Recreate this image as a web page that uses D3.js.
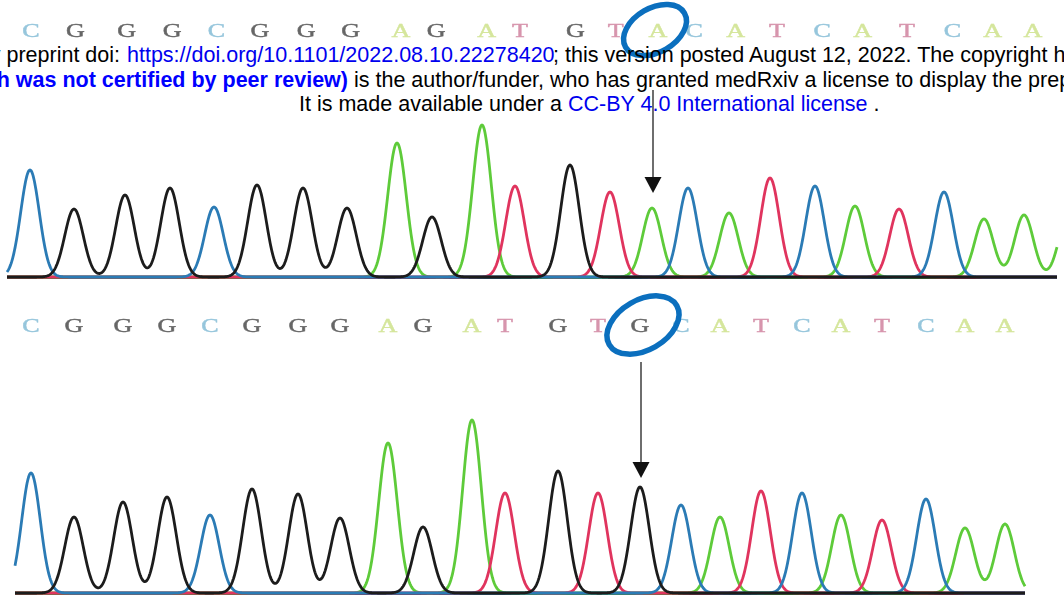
<!DOCTYPE html>
<html>
<head>
<meta charset="utf-8">
<script src="https://cdn.jsdelivr.net/npm/d3@7"></script>
<style>
  body { margin: 0; background: #fff; }
</style>
</head>
<body>
<div id="chart"></div>
<script>
// called bases, wild type (top) and variant (bottom)
var topBases = "CGGGCGGGAGATGTACATCATCAAA".split("");
var botBases = "CGGGCGGGAGATGTGCATCATCAA".split("");

// peak centres (scan units) and peak heights (signal units)
var topPos = [30, 74, 125, 170, 214, 257, 303, 347, 397, 432, 482, 515, 570, 610, 652, 688, 729, 770, 815, 855, 899, 944, 984, 1024, 1068];
var topAmp = [107, 68, 82, 89, 70, 92, 89, 69, 134, 60, 152, 91, 112, 85, 69, 89, 64, 99, 91, 71, 68, 85, 58, 62, 60];
var botPos = [31, 74, 123, 167, 210, 252, 298, 340, 388, 423, 472, 505, 558, 598, 640, 681, 720, 761, 802, 841, 882, 926, 965, 1005];
var botAmp = [120, 76, 91, 96, 78, 104, 99, 75, 150, 66, 173, 100, 122, 100, 106, 88, 76, 102, 100, 78, 73, 94, 65, 69];

// position of the changed base
var mutIndex = 14;

var traceColor = { A: "#5ecb3a", C: "#2b7bb5", G: "#1c1c1c", T: "#e0345e" };
var letterColor = { A: "#d5e69c", C: "#96c6dc", G: "#666666", T: "#d795ad" };
var channelOrder = ["A", "T", "C", "G"];

var width = 1064, height = 600;

var svg = d3.select("#chart")
  .append("svg")
  .attr("width", width)
  .attr("height", height);

var defs = svg.append("defs");
defs.append("filter").attr("id", "soft")
  .append("feGaussianBlur").attr("stdDeviation", 0.7);

var x = d3.scaleLinear().domain([0, 1064]).range([0, width]);

var panels = [
  { bases: topBases, pos: topPos, amp: topAmp, base: 277, letterY: 37, x0: 7, x1: 1057,
    letterX: d3.scaleLinear().domain([30, 1024]).range([31, 1033]),
    arrowTop: 90, arrowTip: 193, rx: 34, ry: 22 },
  { bases: botBases, pos: botPos, amp: botAmp, base: 593, letterY: 332, x0: 15, x1: 1025,
    letterX: d3.scaleLinear().domain([30, 1024]).range([30, 1024]),
    arrowTop: 362, arrowTip: 478, rx: 39, ry: 25 }
];

var sigma = 9.3;

panels.forEach(p => {
  var y = d3.scaleLinear().domain([0, 180]).range([p.base, p.base - 180]);
  var g = svg.append("g");

  // base calls
  g.append("g").attr("filter", "url(#soft)")
    .selectAll("text")
    .data(p.bases.map((b, i) => ({ b: b, pos: p.pos[i] })).filter(d => p.letterX(d.pos) < width - 12))
    .enter()
    .append("text")
    .attr("transform", d => `translate(${p.letterX(d.pos)}, ${p.letterY}) scale(1.45, 1)`)
    .attr("text-anchor", "middle")
    .attr("font-family", "Liberation Serif, Times New Roman, serif")
    .attr("font-size", 18)
    .attr("fill", d => letterColor[d.b])
    .attr("stroke", d => letterColor[d.b])
    .attr("stroke-width", 0.4)
    .text(d => d.b);

  // baseline
  g.append("line")
    .attr("x1", x(p.x0)).attr("x2", x(p.x1))
    .attr("y1", y(0) + 0.5).attr("y2", y(0) + 0.5)
    .attr("stroke", "#2a3b3c")
    .attr("stroke-width", 3);

  // one trace per channel, sum of gaussian peaks
  var samples = d3.range(p.x0, p.x1 + 0.5, 0.5);
  var line = d3.line().x(d => x(d[0])).y(d => y(d[1]));

  channelOrder.forEach(ch => {
    var peaks = p.bases.map((b, i) => ({ b: b, pos: p.pos[i], amp: p.amp[i] }))
      .filter(d => d.b === ch);
    var pts = samples.map(s => {
      var v = d3.sum(peaks, d => d.amp * Math.exp(-((s - d.pos) * (s - d.pos)) / (2 * sigma * sigma)));
      return [s, v];
    });
    g.append("path")
      .datum(pts)
      .attr("d", line)
      .attr("fill", "none")
      .attr("stroke", traceColor[ch])
      .attr("stroke-width", 2.8)
      .attr("stroke-linejoin", "round");
  });

  // arrow pointing at the changed base
  var ax = x(p.pos[mutIndex]) + 1;
  g.append("line")
    .attr("x1", ax).attr("x2", ax)
    .attr("y1", p.arrowTop).attr("y2", p.arrowTip - 12)
    .attr("stroke", "#4a4a4a")
    .attr("stroke-width", 1.6);
  g.append("path")
    .attr("d", `M${ax - 8.5},${p.arrowTip - 16}L${ax + 8.5},${p.arrowTip - 16}L${ax},${p.arrowTip}Z`)
    .attr("fill", "#111");

  // circle round the base call
  g.append("ellipse")
    .attr("transform", `translate(${x(p.pos[mutIndex]) + 3}, ${p.letterY - 7}) rotate(-30)`)
    .attr("rx", p.rx)
    .attr("ry", p.ry)
    .attr("fill", "none")
    .attr("stroke", "#0b6fbe")
    .attr("stroke-width", 5.5);
});

// medRxiv watermark text
var wm = svg.append("g")
  .attr("font-family", "Liberation Sans, Arial, sans-serif")
  .attr("font-size", 21.5);

// line 1
wm.append("text").attr("x", 120).attr("y", 62).attr("text-anchor", "end")
  .attr("fill", "#000").text("medRxiv preprint doi:");
var l1 = wm.append("text").attr("x", 127).attr("y", 62);
l1.append("tspan").attr("fill", "#0000ee").text("https://doi.org/10.1101/2022.08.10.22278420");
l1.append("tspan").attr("x", 553).attr("fill", "#000").text("; this version posted August 12, 2022. The copyright holder for this preprint");

// line 2
wm.append("text").attr("x", 348).attr("y", 87).attr("text-anchor", "end")
  .attr("font-weight", "bold").attr("fill", "#0000ff")
  .text("(which was not certified by peer review)");
wm.append("text").attr("x", 354).attr("y", 87).attr("fill", "#000")
  .text("is the author/funder, who has granted medRxiv a license to display the preprint in perpetuity.");

// line 3
var l3 = wm.append("text").attr("y", 111);
l3.append("tspan").attr("x", 299).attr("fill", "#000").text("It is made available under a ");
l3.append("tspan").attr("x", 568).attr("fill", "#0000ee").text("CC-BY 4.0 International license");
l3.append("tspan").attr("fill", "#000").text(" .");
</script>
</body>
</html>
